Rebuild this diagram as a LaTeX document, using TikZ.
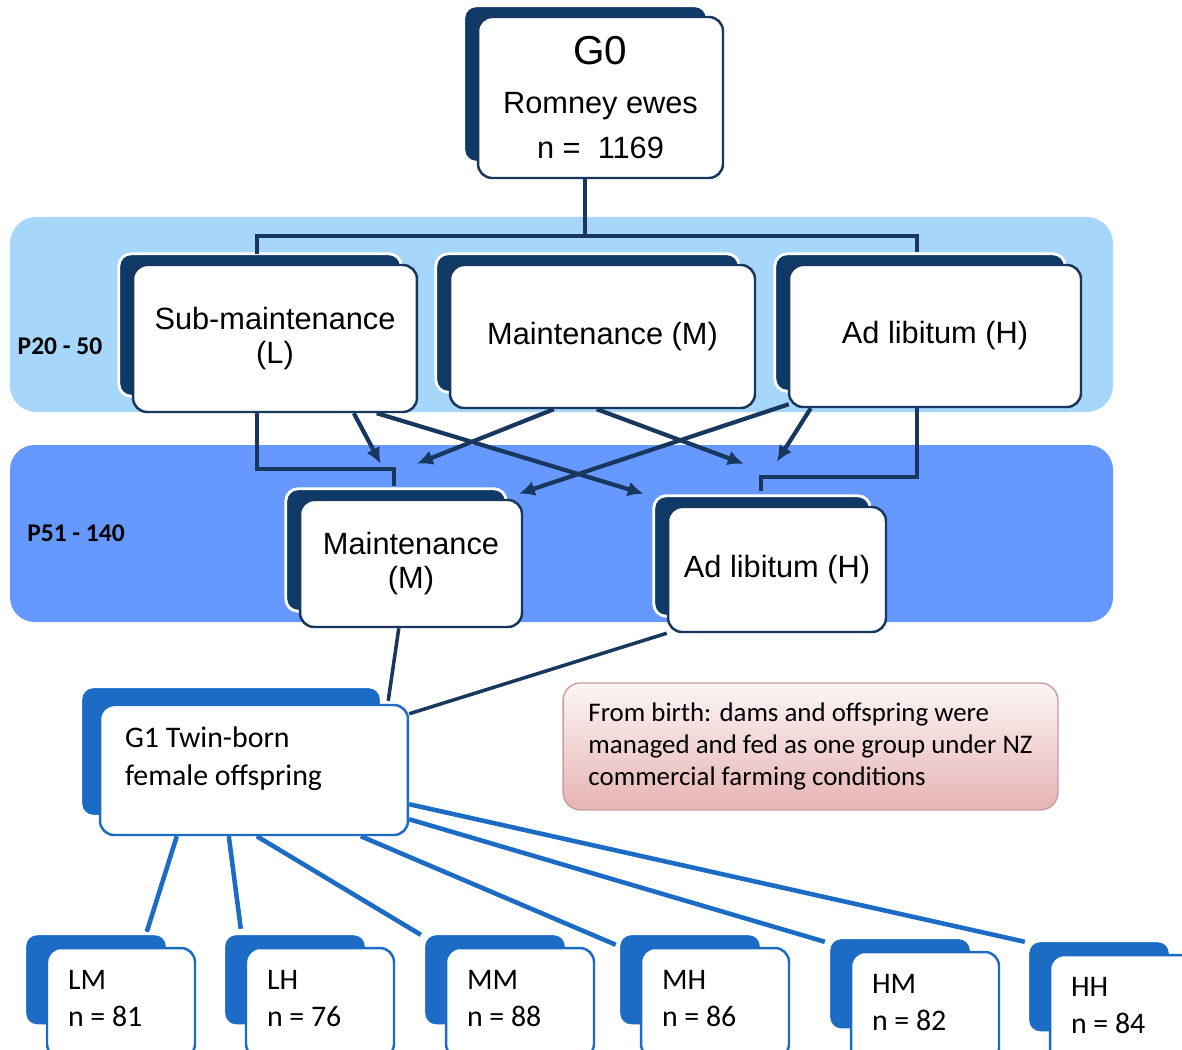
\documentclass[tikz,border=0pt]{standalone}
\usepackage{fontspec}
\setmainfont{Liberation Sans}
\newfontfamily\calib{Carlito}
\usetikzlibrary{arrows.meta,backgrounds,calc}
\definecolor{navyback}{HTML}{0F3A68}
\definecolor{navyline}{HTML}{17375E}
\definecolor{bandlight}{HTML}{A6D6FA}
\definecolor{banddark}{HTML}{6699FF}
\definecolor{kidblue}{HTML}{1C6CC6}
\definecolor{notetop}{HTML}{FDF6F6}
\definecolor{notebot}{HTML}{E6B3B4}
\definecolor{notebd}{HTML}{CC9C9C}

\begin{document}
\begin{tikzpicture}[
  x=0.02cm, y=-0.02cm,
  card/.style={draw=navyline, fill=white, rounded corners=8pt, line width=1.4pt,
               align=center, inner sep=0pt, font=\fontsize{17.5}{19.5}\selectfont},
  kidcard/.style={draw=kidblue, fill=white, rounded corners=8pt, line width=1.4pt,
                  font=\calib\fontsize{17}{21.5}\selectfont},
  backnavy/.style={fill=navyback, draw=white, line width=1.6pt, rounded corners=7pt},
  backblue/.style={fill=kidblue, draw=white, line width=1.6pt, rounded corners=7pt},
  link/.style={navyline, line width=2pt},
  feed/.style={-{Latex[length=3.2mm,width=3mm]}, navyline, line width=2.4pt},
  kidlink/.style={kidblue, line width=2.6pt},
  phase/.style={font=\calib\fontsize{14.5}{16}\selectfont\bfseries},
  note/.style={draw=notebd, line width=0.8pt, rounded corners=10pt, top color=notetop,
               bottom color=notebot, align=left, font=\calib\fontsize{15.3}{18}\selectfont},
]
\useasboundingbox (0,0) rectangle (1182,1050);
\clip (0,0) rectangle (1182,1050);

% ── Period bands ────────────────────────────────────────────────────────
\begin{scope}[on background layer]
  \fill[bandlight, rounded corners=15pt] (10,217) rectangle (1113,412);
  \fill[banddark, rounded corners=14pt] (10,445) rectangle (1113,622);
\end{scope}
\node[phase] (p1) at (60,346) {P20 - 50};
\node[phase] (p2) at (76,533) {P51 - 140};

% ── G0 and feeding levels ───────────────────────────────────────────────
\node[card, minimum width=4.9cm, minimum height=3.22cm] (g0) at (600.5,97.5)
      {{\fontsize{23}{23}\selectfont G0}\\[8pt]Romney ewes\\[6pt]n = \ 1169};
\node[card, minimum width=5.68cm, minimum height=2.94cm] (sl) at (275,338.5)
      {Sub-maintenance\\(L)};
\node[card, minimum width=6.1cm, minimum height=2.86cm] (sm) at (602.5,336.5)
      {Maintenance (M)};
\node[card, minimum width=5.84cm, minimum height=2.84cm] (sh) at (935,336)
      {Ad libitum (H)};
\node[card, minimum width=4.44cm, minimum height=2.54cm] (pm) at (411,563.5)
      {Maintenance\\(M)};
\node[card, minimum width=4.36cm, minimum height=2.5cm] (ph) at (777,569.5)
      {Ad libitum (H)};

% ── Offspring ───────────────────────────────────────────────────────────
\node[kidcard, inner xsep=0.5cm, inner ysep=0.44cm] (g1) at (254,770)
      {\parbox[c][1.72cm][t]{5.16cm}{G1 Twin-born\\female offspring}};
\node[note, minimum width=9.9cm, minimum height=2.54cm] (farm) at (810.5,746.5)
      {From birth: dams and offspring were\\managed and fed as one group under NZ\\commercial farming conditions};
\foreach \nm/\cx/\cy/\grp/\num in {lm/121/1003/LM/81, lh/320/1003/LH/76, mm/520/1003/MM/88,
                                   mh/715/1003/MH/86, hm/925/1007/HM/82, hh/1124/1010/HH/84}
  \node[kidcard, inner xsep=0.42cm, inner ysep=0.44cm] (\nm) at (\cx,\cy)
        {\parbox[c][1.32cm][t]{2.12cm}{\grp\\n = \num}};

% ── Back cards ──────────────────────────────────────────────────────────
\begin{scope}[on background layer]
  \foreach \n in {g0,sl,sm,sh,pm,ph}
    \draw[backnavy] ($(\n.north west)+(-13,-10)$) rectangle ($(\n.south east)+(-17,-17)$);
  \draw[backblue] ($(g1.north west)+(-18,-17)$) rectangle ($(g1.south east)+(-28,-20)$);
  \foreach \n in {lm,lh,mm,mh,hm,hh}
    \draw[backblue] ($(\n.north west)+(-21,-13)$) rectangle ($(\n.north east)+(-29,79)$);
\end{scope}

% ── Connectors ──────────────────────────────────────────────────────────
\coordinate (split) at (585,237);
\draw[link] (g0.south -| split) -- (split);
\draw[link] ($(sl.north west)+(125,-10)$) |- ($(sh.north west)+(129,-28)$)
            -- ($(sh.north west)+(129,-12)$);

\draw[link] ($(sl.south west)+(125,0)$) |- ($(pm.north west)+(95,-30)$)
            -- ($(pm.north west)+(95,-13)$);
\draw[link] ($(sh.south west)+(129,0)$) |- ($(ph.north west)+(94,-29)$)
            -- ($(ph.north west)+(94,-15)$);
\draw[feed] ($(sl.south west)+(222,0)$) -- ($(pm.north west)+(82,-35)$);
\draw[feed] ($(sl.south west)+(245,0)$) -- ($(ph.north west)+(-23,-12)$);
\draw[feed] ($(sm.south west)+(105,0)$) -- ($(pm.north west)+(118,-35)$);
\draw[feed] ($(sm.south west)+(148,0)$) -- ($(ph.north west)+(77,-42)$);
\draw[feed] ($(sh.south west)+(1,-4)$) -- ($(pm.north west)+(220,-5)$);
\draw[feed] ($(sh.south west)+(23,0)$) -- ($(ph.north west)+(110,-44)$);

\draw[link] ($(pm.south west)+(100,0)$) -- ($(g1.north east)+(-21,-3)$);
\draw[link] (ph.south west) -- ($(g1.north east)+(0,10)$);

\draw[kidlink] ($(g1.south west)+(78,0)$) -- ($(lm.north west)+(101,-15)$);
\draw[kidlink] ($(g1.south west)+(130,0)$) -- ($(lh.north west)+(-4,-18)$);
\draw[kidlink] ($(g1.south west)+(158,0)$) -- ($(mm.north west)+(-24,-12)$);
\draw[kidlink] ($(g1.south west)+(262,0)$) -- ($(mh.north west)+(-24,-2)$);
\draw[kidlink] ($(g1.south east)+(0,-17)$) -- ($(hm.north west)+(-25,-9)$);
\draw[kidlink] ($(g1.south east)+(0,-32)$) -- ($(hh.north west)+(-24,-12)$);

\end{tikzpicture}
\end{document}
